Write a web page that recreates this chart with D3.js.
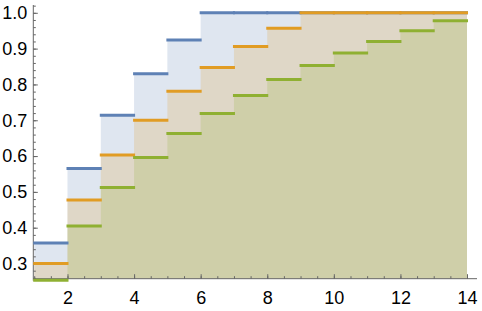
<!DOCTYPE html>
<html lang="en">
  <head>
    <meta charset="UTF-8" />
    <title>Step chart</title>
    <style>
      body { margin: 0; background: #fff; }
      svg { display: block; }
      .axis path, .axis line { stroke: #666; stroke-width: 1; }
      .axis text { font-family: "Liberation Sans", Arial, sans-serif; font-size: 18px; fill: #000; }
      .step { fill: none; stroke-width: 3; stroke-linecap: square; }
    </style>
  </head>
  <body>
    <div id="container"></div>
  </body>
  <script src="https://cdnjs.cloudflare.com/ajax/libs/d3/7.8.5/d3.min.js"></script>
  <script>
    // steps start at x = 1 .. 13, each one runs to x + 1
    let xs = [1, 2, 3, 4, 5, 6, 7, 8, 9, 10, 11, 12, 13];
    let blue = [0.357, 0.565, 0.714, 0.83, 0.924, 1, 1, 1, 1, 1, 1, 1, 1];
    let orange = [0.3, 0.477, 0.603, 0.7, 0.781, 0.847, 0.906, 0.957, 1, 1, 1, 1, 1];
    let green = [0.253, 0.405, 0.512, 0.596, 0.663, 0.719, 0.769, 0.814, 0.853, 0.888, 0.92, 0.95, 0.978];
    let xTicks = [2, 4, 6, 8, 10, 12, 14];
    let yTicks = [0.3, 0.4, 0.5, 0.6, 0.7, 0.8, 0.9, 1.0];

    let width = 482,
      height = 311;

    let x = d3.scaleLinear().domain([0.973, 14.3]).range([33.3, 477]);
    let y = d3.scaleLinear().domain([0.2576, 1.0218]).range([278.7, 5]);

    let series = [
      { vals: blue, color: "#5e81b5" },
      { vals: orange, color: "#e19c24" },
      { vals: green, color: "#8fb032" },
    ];

    let svg = d3
      .select("#container")
      .append("svg")
      .attr("width", width)
      .attr("height", height);

    svg.append("clipPath")
      .attr("id", "plot")
      .append("rect")
      .attr("x", x.range()[0])
      .attr("y", y.range()[1])
      .attr("width", x.range()[1] - x.range()[0])
      .attr("height", y.range()[0] - y.range()[1]);

    // fills, step-after, last value held to x = 14
    let area = d3
      .area()
      .x((d) => x(d[0]))
      .y0(y(y.domain()[0]))
      .y1((d) => y(d[1]))
      .curve(d3.curveStepAfter);

    let fills = svg.append("g").attr("clip-path", "url(#plot)");
    series.forEach((s) => {
      let pts = xs.map((v, i) => [v, s.vals[i]]);
      pts.push([xs[xs.length - 1] + 1, s.vals[s.vals.length - 1]]);
      fills.append("path")
        .attr("d", area(pts))
        .attr("fill", s.color)
        .attr("fill-opacity", 0.2);
    });

    // axes, ticks pointing inward
    let xAxis = svg.append("g").attr("class", "axis")
      .attr("transform", `translate(0,${y.range()[0]})`);
    xAxis.call(d3.axisBottom(x).tickValues(d3.range(1, 14.01, 0.5)).tickSize(-2.5).tickFormat(""));
    xAxis.append("g").call(d3.axisBottom(x).tickValues(xTicks).tickSize(-4.5).tickPadding(12.5).tickFormat(d3.format("d")));
    xAxis.selectAll(".domain").attr("d", `M${x.range()[0]},0H${x.range()[1]}`);

    let yAxis = svg.append("g").attr("class", "axis")
      .attr("transform", `translate(${x.range()[0]},0)`);
    yAxis.call(d3.axisLeft(y).tickValues(d3.range(0.26, 1.021, 0.02)).tickSize(-2.5).tickFormat(""));
    yAxis.append("g").call(d3.axisLeft(y).tickValues(yTicks).tickSize(-4.5).tickPadding(6).tickFormat(d3.format(".1f")));
    yAxis.selectAll(".domain").attr("d", `M0,${y.range()[0] + 2}V${y.range()[1]}`);
    svg.selectAll(".axis g .domain").remove();

    // step lines
    let lines = svg.append("g");
    series.forEach((s) => {
      lines.selectAll(null)
        .data(xs.map((v, i) => [v, s.vals[i]]))
        .join("line")
        .attr("class", "step")
        .attr("stroke", s.color)
        .attr("x1", (d) => x(d[0]) + 0.5)
        .attr("x2", (d) => x(d[0] + 1) - 0.5)
        .attr("y1", (d) => y(d[1]))
        .attr("y2", (d) => y(d[1]));
    });
  </script>
</html>
